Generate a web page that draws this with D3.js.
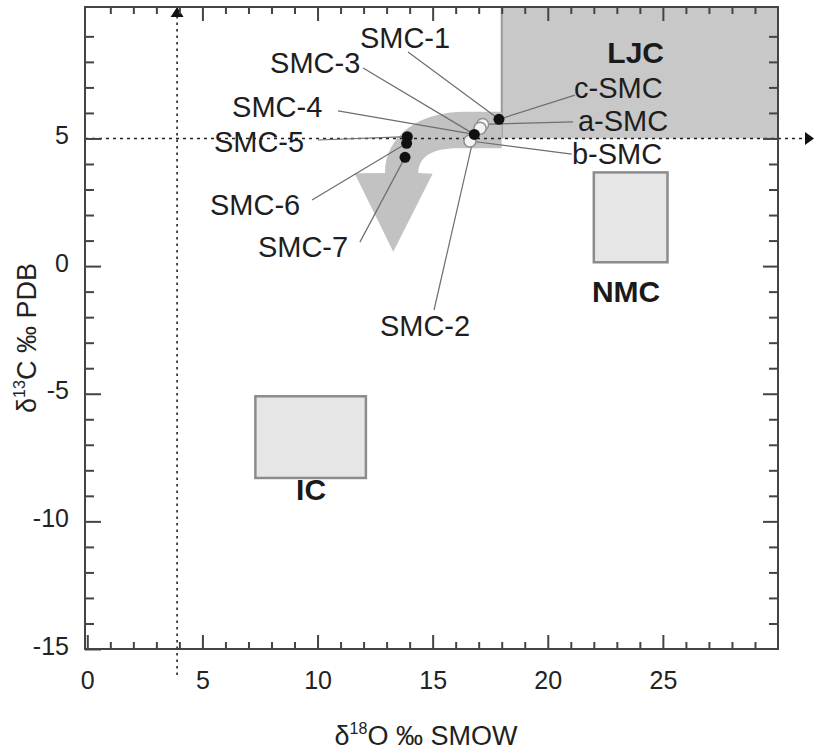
<!DOCTYPE html>
<html><head><meta charset="utf-8">
<script src="https://cdn.jsdelivr.net/npm/d3@7"></script>
<style>
html,body{margin:0;padding:0;background:#fff;}
svg{display:block;font-family:"Liberation Sans",Arial,sans-serif;}
</style>
</head><body>
<svg id="chart" width="814" height="756"></svg>
<script>
// ---------- data ----------
const xMajorTicks = [0, 5, 10, 15, 20, 25];
const yMajorTicks = [-15, -10, -5, 0, 5];
const xMinorTicks = [1,2,3,4,6,7,8,9,11,12,13,14,16,17,18,19,21,22,23,24,26,27,28,29];
const yMinorTicks = [-14,-13,-12,-11,-9,-8,-7,-6,-4,-3,-2,-1,1,2,3,4,6,7,8,9];

// filled (black) and open (white) samples: δ18O (x), δ13C (y)
const filledX = [17.88, 16.81, 13.90, 13.87, 13.80];
const filledY = [5.75, 5.16, 5.07, 4.81, 4.26];
const openX = [17.17, 17.06, 16.62];
const openY = [5.55, 5.40, 4.90];

// sample labels with leader lines
const sampleLabels = ["SMC-1","SMC-3","SMC-4","SMC-5","SMC-6","SMC-7","SMC-2","c-SMC","a-SMC","b-SMC"];
const labelX = [11.84, 7.94, 6.29, 5.50, 5.33, 7.41, 12.71, 21.14, 21.31, 21.05];
const labelY = [8.54, 7.56, 5.84, 4.47, 2.00, 0.36, -2.74, 6.59, 5.29, 4.00];
const leaderFromX = [13.93, 11.98, 10.89, 10.02, 9.76, 11.84, 15.06, 21.18, 21.10, 21.04];
const leaderFromY = [8.39, 7.76, 6.08, 4.94, 2.59, 0.94, -1.72, 6.70, 5.65, 4.39];
const leaderToX = [17.88, 16.81, 16.81, 13.90, 13.87, 13.80, 16.81, 17.88, 17.17, 16.62];
const leaderToY = [5.75, 5.16, 5.16, 5.07, 4.81, 4.26, 5.16, 5.75, 5.55, 4.90];

// field boxes
const regionNames = ["LJC", "NMC", "IC"];
const regionX0 = [18, 22.0, 7.3];
const regionX1 = [30, 25.2, 12.1];
const regionY0 = [5, 0.15, -8.3];
const regionY1 = [10.15, 3.67, -5.1];
const regionLabelX = [25.05, 23.4, 9.72];
const regionLabelY = [7.96, -1.41, -9.16];

// reference lines
const refX = 3.9;
const refY = 5;

// trend arrow outline (data units)
const trendArrow = [
  ["M", 18, 6.05], ["L", 16.41, 6.05],
  ["C", 14.45, 6.05, 12.93, 5.14, 12.93, 3.65],
  ["L", 11.61, 3.64], ["L", 13.29, 0.56], ["L", 15.0, 3.62], ["L", 14.38, 3.65],
  ["C", 14.38, 4.24, 14.89, 4.59, 15.97, 4.62],
  ["L", 18, 4.62], ["Z"]
];

// ---------- chart ----------
const W = 814, H = 756;
const L = 85, R = 778, T = 7, B = 649;
const svg = d3.select("#chart");
const x = d3.scaleLinear().domain([-0.1, 30]).range([L, R]);
const y = d3.scaleLinear().domain([-15, 10.15]).range([B, T]);
const fmt = d => String(d);

// boxes
const boxStyle = [
  {fill: "#c8c8c8", stroke: "none"},
  {fill: "#e6e6e6", stroke: "#8c8c8c"},
  {fill: "#e6e6e6", stroke: "#8c8c8c"}
];
regionNames.forEach((n, i) => {
  svg.append("rect")
    .attr("x", x(regionX0[i])).attr("y", y(regionY1[i]))
    .attr("width", x(regionX1[i]) - x(regionX0[i]))
    .attr("height", y(regionY0[i]) - y(regionY1[i]))
    .attr("fill", boxStyle[i].fill)
    .attr("stroke", boxStyle[i].stroke)
    .attr("stroke-width", 2.5);
});
// LJC left edge
svg.append("line")
  .attr("x1", x(regionX0[0])).attr("x2", x(regionX0[0]))
  .attr("y1", y(regionY0[0])).attr("y2", y(regionY1[0]))
  .attr("stroke", "#9a9a9a").attr("stroke-width", 2);

// trend arrow
const p = d3.path();
trendArrow.forEach(s => {
  if (s[0] === "M") p.moveTo(x(s[1]), y(s[2]));
  else if (s[0] === "L") p.lineTo(x(s[1]), y(s[2]));
  else if (s[0] === "C") p.bezierCurveTo(x(s[1]), y(s[2]), x(s[3]), y(s[4]), x(s[5]), y(s[6]));
  else p.closePath();
});
svg.append("path").attr("d", p.toString()).attr("fill", "#c2c2c2");

// reference dotted lines with arrowheads
svg.append("line")
  .attr("x1", L).attr("x2", W - 8)
  .attr("y1", y(refY)).attr("y2", y(refY))
  .attr("stroke", "#222").attr("stroke-width", 1.6).attr("stroke-dasharray", "3,4");
svg.append("path")
  .attr("d", `M${W},${y(refY)} L${W - 9},${y(refY) - 6.5} L${W - 9},${y(refY) + 6.5} Z`)
  .attr("fill", "#111");
svg.append("line")
  .attr("x1", x(refX)).attr("x2", x(refX))
  .attr("y1", B + 26).attr("y2", T + 10)
  .attr("stroke", "#222").attr("stroke-width", 1.6).attr("stroke-dasharray", "2.5,4");
svg.append("path")
  .attr("d", `M${x(refX)},${T} L${x(refX) - 6.5},${T + 10} L${x(refX) + 6.5},${T + 10} Z`)
  .attr("fill", "#111");

// leader lines
sampleLabels.forEach((n, i) => {
  svg.append("line")
    .attr("x1", x(leaderFromX[i])).attr("y1", y(leaderFromY[i]))
    .attr("x2", x(leaderToX[i])).attr("y2", y(leaderToY[i]))
    .attr("stroke", "#6e6e6e").attr("stroke-width", 1.2);
});

// points
svg.append("g").selectAll("circle").data(openX).join("circle")
  .attr("cx", (d) => x(d)).attr("cy", (d, i) => y(openY[i]))
  .attr("r", 6).attr("fill", "#f4f4f4").attr("stroke", "#909090").attr("stroke-width", 1.5);
svg.append("g").selectAll("circle").data(filledX).join("circle")
  .attr("cx", (d) => x(d)).attr("cy", (d, i) => y(filledY[i]))
  .attr("r", 5.5).attr("fill", "#111");

// sample labels
svg.append("g").selectAll("text").data(sampleLabels).join("text")
  .attr("x", (d, i) => x(labelX[i])).attr("y", (d, i) => y(labelY[i]))
  .attr("font-size", 29).attr("fill", "#1e1e1e")
  .text(d => d);

// region labels
const regionAnchor = ["end", "middle", "middle"];
regionNames.forEach((n, i) => {
  svg.append("text")
    .attr("x", x(regionLabelX[i])).attr("y", y(regionLabelY[i]))
    .attr("text-anchor", regionAnchor[i])
    .attr("font-size", 30).attr("font-weight", "bold").attr("fill", "#1a1a1a")
    .text(n);
});

// axes
function styleAxis(g) {
  g.select(".domain").remove();
  g.selectAll(".tick line").attr("stroke", "#444").attr("stroke-width", 2);
  g.selectAll(".tick text").attr("fill", "#222").attr("font-size", 25)
    .attr("font-family", '"Liberation Sans", Arial, sans-serif');
}
svg.append("g").attr("transform", `translate(0,${B})`)
  .call(d3.axisBottom(x).tickValues(xMinorTicks).tickSizeInner(-7).tickSizeOuter(0).tickFormat(""))
  .call(styleAxis);
svg.append("g").attr("transform", `translate(0,${B})`)
  .call(d3.axisBottom(x).tickValues(xMajorTicks).tickSizeInner(-14).tickSizeOuter(0).tickPadding(22).tickFormat(fmt))
  .call(styleAxis);
svg.append("g").attr("transform", `translate(0,${T})`)
  .call(d3.axisTop(x).tickValues(xMinorTicks).tickSizeInner(-7).tickSizeOuter(0).tickFormat(""))
  .call(styleAxis);
svg.append("g").attr("transform", `translate(0,${T})`)
  .call(d3.axisTop(x).tickValues(xMajorTicks.filter(v => v > 0)).tickSizeInner(-14).tickSizeOuter(0).tickFormat(""))
  .call(styleAxis);
svg.append("g").attr("transform", `translate(${L},0)`)
  .call(d3.axisLeft(y).tickValues(yMinorTicks).tickSizeInner(-9).tickSizeOuter(0).tickFormat(""))
  .call(styleAxis);
const gyl = svg.append("g").attr("transform", `translate(${L},0)`)
  .call(d3.axisLeft(y).tickValues(yMajorTicks).tickSizeInner(-16).tickSizeOuter(0).tickPadding(16).tickFormat(fmt))
  .call(styleAxis);
gyl.selectAll(".tick text").attr("dy", "0.2em");
svg.append("g").attr("transform", `translate(${R},0)`)
  .call(d3.axisRight(y).tickValues(yMinorTicks).tickSizeInner(-9).tickSizeOuter(0).tickFormat(""))
  .call(styleAxis);
svg.append("g").attr("transform", `translate(${R},0)`)
  .call(d3.axisRight(y).tickValues(yMajorTicks.filter(v => v > -15)).tickSizeInner(-15).tickSizeOuter(0).tickFormat(""))
  .call(styleAxis);

// frame
svg.append("rect").attr("x", L).attr("y", T).attr("width", R - L).attr("height", B - T)
  .attr("fill", "none").attr("stroke", "#444").attr("stroke-width", 2);

// axis titles
const xt = svg.append("text").attr("x", 426).attr("y", 745)
  .attr("text-anchor", "middle").attr("font-size", 27).attr("fill", "#222");
xt.append("tspan").text("δ");
xt.append("tspan").attr("font-size", 16).attr("dy", -11).text("18");
xt.append("tspan").attr("dy", 11).text("O ‰ SMOW");

const yt = svg.append("text").attr("transform", "translate(36,338) rotate(-90)")
  .attr("text-anchor", "middle").attr("font-size", 27).attr("fill", "#222");
yt.append("tspan").text("δ");
yt.append("tspan").attr("font-size", 16).attr("dy", -11).text("13");
yt.append("tspan").attr("dy", 11).text("C ‰ PDB");
</script>
</body></html>
